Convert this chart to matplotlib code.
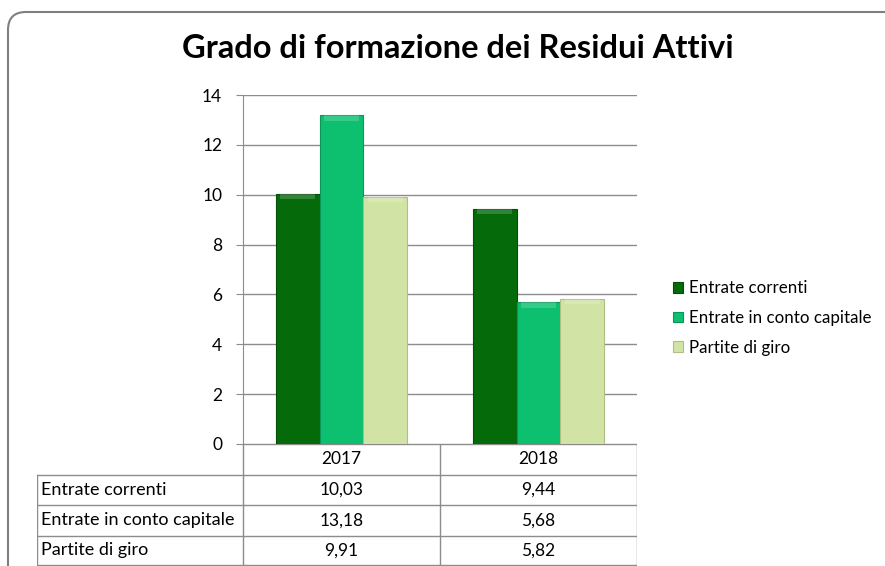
import numpy as np
import matplotlib.pyplot as plt
from matplotlib.patches import FancyBboxPatch
from matplotlib.transforms import IdentityTransform

plt.rcParams['font.family'] = ['Lato', 'DejaVu Sans']

years = ['2017', '2018']
series = ['Entrate correnti', 'Entrate in conto capitale', 'Partite di giro']
entrate_correnti = [10.03, 9.44]
entrate_capitale = [13.18, 5.68]
partite_giro = [9.91, 5.82]
labels_fmt = [['10,03', '9,44'], ['13,18', '5,68'], ['9,91', '5,82']]
colors = ['#056b0a', '#0cc070', '#d2e3a6']
edges = ['#034d06', '#08965a', '#aebf85']

W, H = 885, 566
fig = plt.figure(figsize=(W / 100, H / 100), dpi=100)

def fbox(x0, y0, x1, y1):
    return [x0 / W, 1 - y1 / H, (x1 - x0) / W, (y1 - y0) / H]

# rounded frame, behind everything
frame = FancyBboxPatch((8, -30), 920, H - 12 + 30, boxstyle='round,pad=0,rounding_size=18',
                       transform=IdentityTransform(), facecolor='white', edgecolor='#7f7f7f',
                       lw=1.5, zorder=-10)
fig.patches.append(frame)

fig.text(458 / W, 1 - 49 / H, 'Grado di formazione dei Residui Attivi', ha='center', va='center',
         fontsize=23.5, fontweight='bold')

ax = fig.add_axes(fbox(243, 95, 637, 444))
ax.patch.set_alpha(0)
data = [entrate_correnti, entrate_capitale, partite_giro]
x = np.arange(len(years))
bw = 0.223
for i, vals in enumerate(data):
    pos = x + (i - 1) * bw
    ax.bar(pos, vals, width=bw, color=colors[i], edgecolor=edges[i], lw=0.8, label=series[i], zorder=3)
    # light bevel on top of each bar
    ax.bar(pos, [0.22] * len(vals), bottom=np.array(vals) - 0.22, width=bw * 0.8,
           color='white', alpha=0.18, lw=0, zorder=4)

ax.set_xlim(-0.5, 1.5)
ax.set_ylim(0, 14)
ax.set_yticks(range(0, 15, 2))
ax.set_xticks([])
ax.yaxis.grid(True, color='#8c8c8c', lw=1)
ax.set_axisbelow(True)
for s in ['top', 'right', 'bottom']:
    ax.spines[s].set_visible(False)
ax.spines['left'].set_color('#8c8c8c')
ax.tick_params(axis='y', length=5, color='#8c8c8c', labelsize=12.5, pad=10)

# data table
tab = fig.add_axes(fbox(37, 444, 637, 566))
tab.patch.set_alpha(0)
tab.set_xlim(37, 637)
tab.set_ylim(566, 444)
tab.axis('off')
col_x = [37, 243, 440, 637]
row_y = [444, 475, 505, 536, 565]
lc = '#8c8c8c'
# header row (no top-left cell)
tab.plot([243, 637], [444, 444], color=lc, lw=1)
for cx in col_x[1:]:
    tab.plot([cx, cx], [444, 565], color=lc, lw=1)
tab.plot([37, 37], [475, 565], color=lc, lw=1)
for ry in row_y[1:]:
    tab.plot([37, 637], [ry, ry], color=lc, lw=1)
for j, yr in enumerate(years):
    tab.text((col_x[j + 1] + col_x[j + 2]) / 2, (row_y[0] + row_y[1]) / 2, yr,
             ha='center', va='center', fontsize=12.5)
for i, name in enumerate(series):
    yc = (row_y[i + 1] + row_y[i + 2]) / 2
    tab.text(41, yc, name, ha='left', va='center', fontsize=13)
    for j in range(len(years)):
        tab.text((col_x[j + 1] + col_x[j + 2]) / 2, yc, labels_fmt[i][j],
                 ha='center', va='center', fontsize=12.5)

# legend
handles, lbls = ax.get_legend_handles_labels()
fig.legend(handles[:3], lbls[:3], loc='center left', bbox_to_anchor=(658 / W, 1 - 318 / H),
           frameon=False, fontsize=12.2, handlelength=0.6, handleheight=0.6,
           handletextpad=0.35, labelspacing=0.8)

fig.savefig('out.png', dpi=100)
